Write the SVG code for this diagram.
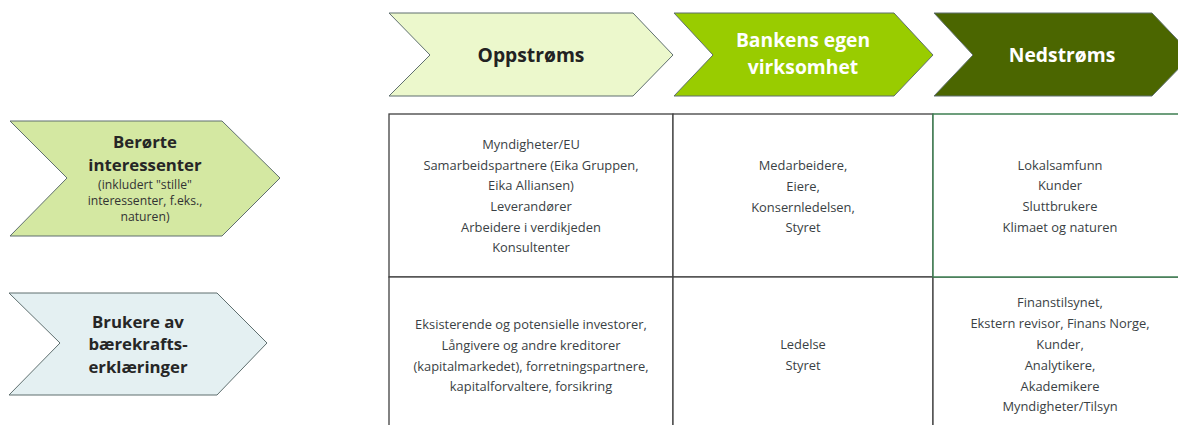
<svg xmlns="http://www.w3.org/2000/svg" width="1178" height="425" viewBox="0 0 1178 425">
<style>
.chev{stroke:#5f6f6f;stroke-width:1}
.hd{font-family:"Open Sans","Liberation Sans",sans-serif;font-weight:bold;font-size:19.3px;text-anchor:middle}
.lb{font-family:"Open Sans","Liberation Sans",sans-serif;font-weight:bold;font-size:16.8px;text-anchor:middle;fill:#262626}
.sm{font-family:"Open Sans","Liberation Sans",sans-serif;font-size:12.2px;text-anchor:middle;fill:#333}
.cell{fill:#fff;stroke:#404040;stroke-width:1.3}
.ct{font-family:"Open Sans","Liberation Sans",sans-serif;font-size:12.9px;text-anchor:middle;fill:#3a3f44}
</style>
<rect width="1178" height="425" fill="#fff"/>
<g id="col-oppstroms">
<polygon class="chev" points="389,13 633,13 673,55 633,96 389,96 430,55" fill="#ecf8cc"/>
<text class="hd" x="531" y="62" fill="#222">Oppstrøms</text>
</g>
<g id="col-bankens">
<polygon class="chev" points="674,13 894,13 933,55 894,96 674,96 713,55" fill="#99cc00"/>
<text class="hd" x="803" y="47" fill="#fff">Bankens egen</text>
<text class="hd" x="803" y="74" fill="#fff">virksomhet</text>
</g>
<g id="col-nedstroms">
<polygon class="chev" points="934,13 1152,13 1192,55 1152,96 934,96 973,55" fill="#4b6600"/>
<text class="hd" x="1062" y="62" fill="#fff">Nedstrøms</text>
</g>
<g id="row-berorte">
<polygon class="chev" points="10,121 222,121 280,178 222,236 10,236 67,178" fill="#d4e8a2"/>
<text class="lb" x="145" y="148">Berørte</text>
<text class="lb" x="145" y="171">interessenter</text>
<text class="sm" x="145" y="189">(inkludert "stille"</text>
<text class="sm" x="145" y="205">interessenter, f.eks.,</text>
<text class="sm" x="145" y="221">naturen)</text>
</g>
<g id="row-brukere">
<polygon class="chev" points="9,293 217,293 267,343 217,395 9,395 60,343" fill="#e4f0f2"/>
<text class="lb" x="138" y="328">Brukere av</text>
<text class="lb" x="138" y="350">bærekrafts-</text>
<text class="lb" x="138" y="373">erklæringer</text>
</g>
<g id="cell-r1c1">
<rect class="cell" x="389" y="114" width="284" height="163"/>
<text class="ct" x="531" y="149">Myndigheter/EU</text>
<text class="ct" x="531" y="170">Samarbeidspartnere (Eika Gruppen,</text>
<text class="ct" x="531" y="190">Eika Alliansen)</text>
<text class="ct" x="531" y="211">Leverandører</text>
<text class="ct" x="531" y="232">Arbeidere i verdikjeden</text>
<text class="ct" x="531" y="252">Konsultenter</text>
</g>
<g id="cell-r1c2">
<rect class="cell" x="673" y="114" width="260" height="163"/>
<text class="ct" x="803" y="170">Medarbeidere,</text>
<text class="ct" x="803" y="191">Eiere,</text>
<text class="ct" x="803" y="212">Konsernledelsen,</text>
<text class="ct" x="803" y="232">Styret</text>
</g>
<g id="cell-r2c1">
<rect class="cell" x="389" y="277" width="284" height="160"/>
<text class="ct" x="531" y="329">Eksisterende og potensielle investorer,</text>
<text class="ct" x="531" y="350">Långivere og andre kreditorer</text>
<text class="ct" x="531" y="371">(kapitalmarkedet), forretningspartnere,</text>
<text class="ct" x="531" y="391">kapitalforvaltere, forsikring</text>
</g>
<g id="cell-r2c2">
<rect class="cell" x="673" y="277" width="260" height="160"/>
<text class="ct" x="803" y="349">Ledelse</text>
<text class="ct" x="803" y="370">Styret</text>
</g>
<g id="cell-r2c3">
<rect class="cell" x="933" y="277" width="260" height="160"/>
<text class="ct" x="1060" y="307">Finanstilsynet,</text>
<text class="ct" x="1060" y="328">Ekstern revisor, Finans Norge,</text>
<text class="ct" x="1060" y="349">Kunder,</text>
<text class="ct" x="1060" y="370">Analytikere,</text>
<text class="ct" x="1060" y="391">Akademikere</text>
<text class="ct" x="1060" y="411">Myndigheter/Tilsyn</text>
</g>
<g id="cell-r1c3">
<rect x="933" y="114" width="260" height="163" fill="#fff" stroke="#3e7f52" stroke-width="1.5"/>
<text class="ct" x="1060" y="170">Lokalsamfunn</text>
<text class="ct" x="1060" y="190">Kunder</text>
<text class="ct" x="1060" y="211">Sluttbrukere</text>
<text class="ct" x="1060" y="232">Klimaet og naturen</text>
</g>
<g id="connectors"/>
</svg>
